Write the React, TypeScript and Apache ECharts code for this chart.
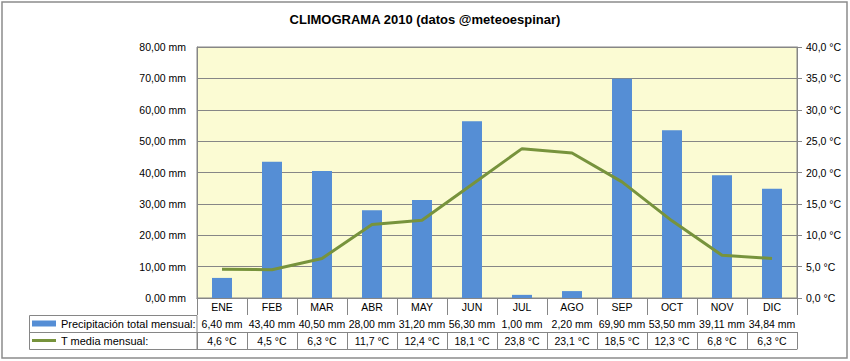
import React, { useEffect, useRef } from "react";
import * as echarts from "echarts";

const title = "CLIMOGRAMA 2010 (datos @meteoespinar)";
const months = ["ENE", "FEB", "MAR", "ABR", "MAY", "JUN", "JUL", "AGO", "SEP", "OCT", "NOV", "DIC"];
const precip = [6.4, 43.4, 40.5, 28.0, 31.2, 56.3, 1.0, 2.2, 69.9, 53.5, 39.11, 34.84];
const temps = [4.6, 4.5, 6.3, 11.7, 12.4, 18.1, 23.8, 23.1, 18.5, 12.3, 6.8, 6.3];
const precipName = "Precipitación total mensual";
const tempName = "T media mensual";

const FONT = "'Liberation Sans', Arial, sans-serif";
const GRAY = "#868686";
const fmtMm = (v: number) => v.toFixed(2).replace(".", ",") + " mm";
const fmtC = (v: number) => v.toFixed(1).replace(".", ",") + " °C";

export default function App() {
  const ref = useRef<HTMLDivElement>(null);
  useEffect(() => {
    document.body.style.margin = "0";
    const chart = echarts.init(ref.current!, null, { renderer: "svg" });
    const catAxis = (offset: number, labels: ((v: string, i: number) => string) | null, showTicks: boolean) => ({
      type: "category",
      data: months,
      position: "bottom",
      offset,
      gridIndex: 0,
      axisLine: { show: true, lineStyle: { color: GRAY, width: 1 } },
      axisTick: { show: showTicks, interval: 0, length: 17, lineStyle: { color: GRAY } },
      axisLabel: labels
        ? { show: true, interval: 0, margin: 3, fontSize: 10.5, color: "#000", fontFamily: FONT, formatter: labels }
        : { show: false },
    });
    chart.setOption({
      animation: false,
      textStyle: { fontFamily: FONT },
      title: {
        text: title,
        left: "center",
        top: 13,
        padding: 0,
        textStyle: { fontSize: 13, fontWeight: "bold", color: "#000", fontFamily: FONT },
      },
      grid: {
        left: 197,
        right: 53,
        top: 47,
        bottom: 63,
        show: true,
        backgroundColor: "#FBFBD3",
        borderColor: GRAY,
        borderWidth: 1,
      },
      legend: [
        {
          data: [{ name: precipName, icon: "rect" }],
          left: 32,
          top: 318,
          padding: 0,
          itemWidth: 24,
          itemHeight: 6,
          selectedMode: false,
          formatter: (n: string) => n + ":",
          textStyle: { fontSize: 11, color: "#000", fontFamily: FONT },
        },
        {
          data: [{ name: tempName, icon: "rect" }],
          left: 32,
          top: 335,
          padding: 0,
          itemWidth: 24,
          itemHeight: 3,
          selectedMode: false,
          formatter: (n: string) => n + ":",
          textStyle: { fontSize: 11, color: "#000", fontFamily: FONT },
        },
      ],
      xAxis: [
        catAxis(0, (v: string) => v, true),
        catAxis(17, (_v: string, i: number) => fmtMm(precip[i]), true),
        catAxis(34, (_v: string, i: number) => fmtC(temps[i]), true),
        catAxis(51, null, false),
      ],
      yAxis: [
        {
          type: "value",
          min: 0,
          max: 80,
          interval: 10,
          axisLine: { show: true, lineStyle: { color: GRAY } },
          axisTick: { show: false },
          splitLine: { show: true, lineStyle: { color: GRAY, width: 1 } },
          axisLabel: { margin: 11, fontSize: 10.5, color: "#000", fontFamily: FONT, formatter: (v: number) => fmtMm(v) },
        },
        {
          type: "value",
          min: 0,
          max: 40,
          interval: 5,
          position: "right",
          axisLine: { show: true, lineStyle: { color: GRAY } },
          axisTick: { show: true, length: 5, lineStyle: { color: GRAY } },
          splitLine: { show: false },
          axisLabel: { margin: 9, fontSize: 10.5, color: "#000", fontFamily: FONT, formatter: (v: number) => fmtC(v) },
        },
      ],
      series: [
        {
          name: precipName,
          type: "bar",
          data: precip,
          xAxisIndex: 0,
          yAxisIndex: 0,
          barWidth: "40%",
          itemStyle: { color: "#558ED5" },
        },
        {
          name: tempName,
          type: "line",
          data: temps,
          xAxisIndex: 0,
          yAxisIndex: 1,
          symbol: "none",
          lineStyle: { color: "#77933C", width: 3 },
          itemStyle: { color: "#77933C" },
        },
      ],
      graphic: [
        {
          type: "rect",
          shape: { x: 2, y: 2, width: 845, height: 356 },
          style: { fill: "none", stroke: "#8c8c8c", lineWidth: 1.5 },
          silent: true,
        },
        {
          type: "rect",
          shape: { x: 29.5, y: 315.5, width: 167.5, height: 34 },
          style: { fill: "none", stroke: GRAY, lineWidth: 1 },
          silent: true,
        },
        {
          type: "line",
          shape: { x1: 29.5, y1: 332.5, x2: 197, y2: 332.5 },
          style: { stroke: GRAY, lineWidth: 1 },
          silent: true,
        },
      ],
    });
    return () => chart.dispose();
  }, []);
  return <div ref={ref} style={{ position: "absolute", left: 0, top: 0, width: 850, height: 361 }} />;
}
